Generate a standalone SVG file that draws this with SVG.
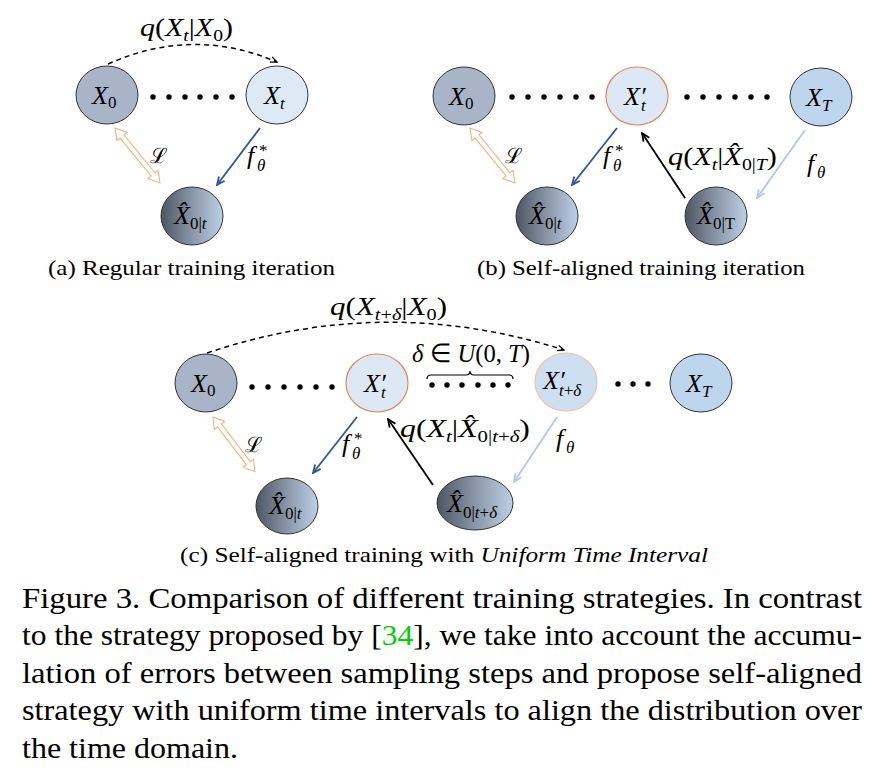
<svg xmlns="http://www.w3.org/2000/svg" width="891" height="779" viewBox="0 0 891 779">
<defs>
<linearGradient id="gh" x1="0" y1="0" x2="1" y2="0">
<stop offset="0" stop-color="#4d5562"/>
<stop offset="0.5" stop-color="#8a96a8"/>
<stop offset="1" stop-color="#bdd0e6"/>
</linearGradient>
<marker id="mb" viewBox="0 0 10 10" refX="9" refY="5" markerWidth="10" markerHeight="10" orient="auto" markerUnits="userSpaceOnUse"><path d="M1,1.5 L9,5 L1,8.5" fill="none" stroke="#2f5597" stroke-width="1.8"/></marker>
<marker id="ml" viewBox="0 0 10 10" refX="9" refY="5" markerWidth="10" markerHeight="10" orient="auto" markerUnits="userSpaceOnUse"><path d="M1,1.5 L9,5 L1,8.5" fill="none" stroke="#b4c7e7" stroke-width="1.8"/></marker>
<marker id="mk" viewBox="0 0 10 10" refX="9" refY="5" markerWidth="10" markerHeight="10" orient="auto" markerUnits="userSpaceOnUse"><path d="M1,1.5 L9,5 L1,8.5" fill="none" stroke="#000" stroke-width="1.8"/></marker>
<marker id="md" viewBox="0 0 10 10" refX="9" refY="5" markerWidth="8" markerHeight="8" orient="auto" markerUnits="userSpaceOnUse"><path d="M1,1.5 L9,5 L1,8.5" fill="none" stroke="#000" stroke-width="1.6"/></marker>
<polygon id="dbl71" points="0,0 11,-6.5 11,-2.5 60,-2.5 60,-6.5 71,0 60,6.5 60,2.5 11,2.5 11,6.5"/>
</defs>

<g id="connectors" fill="none" stroke-width="1.8">
<path d="M108,64 Q193,26 277,62" stroke="#000" stroke-width="1.5" stroke-dasharray="5,4" marker-end="url(#md)"/>
<use href="#dbl71" fill="#fff" stroke="#f4b183" stroke-width="1.1" transform="translate(115,128) rotate(50.7)"/>
<line x1="260" y1="128" x2="217" y2="185" stroke="#2f5597" marker-end="url(#mb)"/>
<use href="#dbl71" fill="#fff" stroke="#f4b183" stroke-width="1.1" transform="translate(470,128) rotate(50.7)"/>
<line x1="617" y1="128" x2="572" y2="185" stroke="#2f5597" marker-end="url(#mb)"/>
<line x1="685" y1="198" x2="642" y2="133" stroke="#000" marker-end="url(#mk)"/>
<line x1="805" y1="130" x2="757" y2="198" stroke="#b4c7e7" marker-end="url(#ml)"/>
<path d="M207,353 Q385,293 564,350" stroke="#000" stroke-width="1.5" stroke-dasharray="5,4" marker-end="url(#md)"/>
<use href="#dbl71" fill="#fff" stroke="#f4b183" stroke-width="1.1" transform="translate(213,417) rotate(52.6) scale(0.97,1)"/>
<line x1="357" y1="417" x2="313" y2="473" stroke="#2f5597" marker-end="url(#mb)"/>
<line x1="433" y1="485" x2="388" y2="419" stroke="#000" marker-end="url(#mk)"/>
<line x1="557" y1="417" x2="514" y2="482" stroke="#b4c7e7" marker-end="url(#ml)"/>
<path d="M427,379 q0,-4 4,-4 H466 q4,0 4,-4 q0,4 4,4 H509 q4,0 4,4" stroke="#000" stroke-width="1.2"/>
</g>

<g id="dots" fill="#000">
<circle cx="153" cy="97" r="2.7"/><circle cx="169" cy="97" r="2.7"/><circle cx="185" cy="97" r="2.7"/><circle cx="200" cy="97" r="2.7"/><circle cx="216" cy="97" r="2.7"/><circle cx="232" cy="97" r="2.7"/>
<circle cx="512" cy="97" r="2.7"/><circle cx="528" cy="97" r="2.7"/><circle cx="544" cy="97" r="2.7"/><circle cx="560" cy="97" r="2.7"/><circle cx="576" cy="97" r="2.7"/><circle cx="592" cy="97" r="2.7"/>
<circle cx="687" cy="97" r="2.7"/><circle cx="703" cy="97" r="2.7"/><circle cx="719" cy="97" r="2.7"/><circle cx="735" cy="97" r="2.7"/><circle cx="751" cy="97" r="2.7"/><circle cx="767" cy="97" r="2.7"/>
<circle cx="252" cy="387" r="2.7"/><circle cx="268" cy="387" r="2.7"/><circle cx="284" cy="387" r="2.7"/><circle cx="300" cy="387" r="2.7"/><circle cx="316" cy="387" r="2.7"/><circle cx="332" cy="387" r="2.7"/>
<circle cx="432" cy="385" r="2.7"/><circle cx="447" cy="385" r="2.7"/><circle cx="462" cy="385" r="2.7"/><circle cx="478" cy="385" r="2.7"/><circle cx="493" cy="385" r="2.7"/><circle cx="508" cy="385" r="2.7"/>
<circle cx="618" cy="384" r="2.7"/><circle cx="633" cy="384" r="2.7"/><circle cx="648" cy="384" r="2.7"/>
</g>

<g id="a_X0"><ellipse cx="107" cy="95" rx="31" ry="29" fill="#a9b4c8" stroke="#333"/>
<text style="font-family:'Liberation Serif'" font-size="26" x="92" y="104"><tspan font-style="italic">X</tspan><tspan font-size="17" dy="4">0</tspan></text></g>
<g id="a_Xt"><ellipse cx="277" cy="95" rx="31" ry="29" fill="#dde9f5" stroke="#333"/>
<text style="font-family:'Liberation Serif'" font-size="26" x="264" y="104"><tspan font-style="italic">X</tspan><tspan font-size="17" font-style="italic" dy="5">t</tspan></text></g>
<g id="a_X0t"><ellipse cx="192" cy="216" rx="31" ry="29" fill="url(#gh)" stroke="#333"/>
<text style="font-family:'Liberation Serif'" font-size="26" x="174" y="224"><tspan font-style="italic">X̂</tspan><tspan font-size="17" dy="5">0|</tspan><tspan font-size="17" font-style="italic">t</tspan></text></g>

<g id="b_X0"><ellipse cx="464" cy="96" rx="31" ry="29" fill="#a9b4c8" stroke="#333"/>
<text style="font-family:'Liberation Serif'" font-size="26" x="449" y="105"><tspan font-style="italic">X</tspan><tspan font-size="17" dy="4">0</tspan></text></g>
<g id="b_Xt"><ellipse cx="637" cy="96" rx="31" ry="29" fill="#dde8f4" stroke="#d9895e" stroke-width="1.2"/>
<text style="font-family:'Liberation Serif'" font-size="26" font-style="italic" x="624" y="105">X′</text><text style="font-family:'Liberation Serif'" font-size="17" font-style="italic" x="641" y="111">t</text></g>
<g id="b_XT"><ellipse cx="821" cy="97" rx="31" ry="29" fill="#bdd5ed" stroke="#333"/>
<text style="font-family:'Liberation Serif'" font-size="26" x="806" y="106"><tspan font-style="italic">X</tspan><tspan font-size="17" font-style="italic" dy="5">T</tspan></text></g>
<g id="b_X0t"><ellipse cx="547" cy="216" rx="31" ry="29" fill="url(#gh)" stroke="#333"/>
<text style="font-family:'Liberation Serif'" font-size="26" x="529" y="224"><tspan font-style="italic">X̂</tspan><tspan font-size="17" dy="5">0|</tspan><tspan font-size="17" font-style="italic">t</tspan></text></g>
<g id="b_X0T"><ellipse cx="716" cy="216" rx="31" ry="29" fill="url(#gh)" stroke="#333"/>
<text style="font-family:'Liberation Serif'" font-size="26" x="697" y="224"><tspan font-style="italic">X̂</tspan><tspan font-size="17" dy="5">0|T</tspan></text></g>

<g id="c_X0"><ellipse cx="206" cy="383" rx="31" ry="29" fill="#a9b4c8" stroke="#333"/>
<text style="font-family:'Liberation Serif'" font-size="26" x="191" y="392"><tspan font-style="italic">X</tspan><tspan font-size="17" dy="4">0</tspan></text></g>
<g id="c_Xt"><ellipse cx="377" cy="383" rx="31" ry="29" fill="#dde8f4" stroke="#d9895e" stroke-width="1.2"/>
<text style="font-family:'Liberation Serif'" font-size="26" font-style="italic" x="364" y="392">X′</text><text style="font-family:'Liberation Serif'" font-size="17" font-style="italic" x="381" y="398">t</text></g>
<g id="c_Xtd"><ellipse cx="566" cy="382" rx="31" ry="29" fill="#cddff0" stroke="#f0c4a8" stroke-width="1.2"/>
<text style="font-family:'Liberation Serif'" font-size="26" font-style="italic" x="543" y="389">X′</text><text style="font-family:'Liberation Serif'" font-size="17" x="559" y="396"><tspan font-style="italic">t</tspan>+<tspan font-style="italic">δ</tspan></text></g>
<g id="c_XT"><ellipse cx="701" cy="383" rx="31" ry="29" fill="#bdd5ed" stroke="#333"/>
<text style="font-family:'Liberation Serif'" font-size="26" x="686" y="392"><tspan font-style="italic">X</tspan><tspan font-size="17" font-style="italic" dy="5">T</tspan></text></g>
<g id="c_X0t"><ellipse cx="287" cy="506" rx="31" ry="28" fill="url(#gh)" stroke="#333"/>
<text style="font-family:'Liberation Serif'" font-size="26" x="269" y="514"><tspan font-style="italic">X̂</tspan><tspan font-size="17" dy="5">0|</tspan><tspan font-size="17" font-style="italic">t</tspan></text></g>
<g id="c_X0td"><ellipse cx="475" cy="503" rx="38" ry="27" fill="url(#gh)" stroke="#333"/>
<text style="font-family:'Liberation Serif'" font-size="26" x="447" y="512"><tspan font-style="italic">X̂</tspan><tspan font-size="17" dy="6">0|</tspan><tspan font-size="17" font-style="italic">t</tspan><tspan font-size="17">+</tspan><tspan font-size="17" font-style="italic">δ</tspan></text></g>

<text style="font-family:'Liberation Serif'" font-size="26" x="140" y="36" textLength="93" lengthAdjust="spacingAndGlyphs"><tspan font-style="italic">q</tspan>(<tspan font-style="italic">X</tspan><tspan font-size="17" font-style="italic" dy="5">t</tspan><tspan dy="-5">|</tspan><tspan font-style="italic">X</tspan><tspan font-size="17" dy="5">0</tspan><tspan dy="-5">)</tspan></text>
<text style="font-family:'DejaVu Serif'" font-size="21" x="150" y="163">ℒ</text>
<text style="font-family:'Liberation Serif'" font-size="26" font-style="italic" x="247" y="164">f</text><text style="font-family:'Liberation Serif'" font-size="17" x="259" y="156">*</text><text style="font-family:'Liberation Serif'" font-size="17" font-style="italic" x="257" y="171">θ</text>

<text style="font-family:'DejaVu Serif'" font-size="21" x="505" y="163">ℒ</text>
<text style="font-family:'Liberation Serif'" font-size="26" font-style="italic" x="603" y="164">f</text><text style="font-family:'Liberation Serif'" font-size="17" x="615" y="156">*</text><text style="font-family:'Liberation Serif'" font-size="17" font-style="italic" x="613" y="171">θ</text>
<text style="font-family:'Liberation Serif'" font-size="26" x="668" y="165" textLength="109" lengthAdjust="spacingAndGlyphs"><tspan font-style="italic">q</tspan>(<tspan font-style="italic">X</tspan><tspan font-size="17" font-style="italic" dy="5">t</tspan><tspan dy="-5">|</tspan><tspan font-style="italic">X̂</tspan><tspan font-size="17" dy="5">0|</tspan><tspan font-size="17" font-style="italic">T</tspan><tspan dy="-5">)</tspan></text>
<text style="font-family:'Liberation Serif'" font-size="26" font-style="italic" x="807" y="172">f</text><text style="font-family:'Liberation Serif'" font-size="17" font-style="italic" x="817" y="178">θ</text>

<text style="font-family:'Liberation Serif'" font-size="26" x="330" y="315" textLength="117" lengthAdjust="spacingAndGlyphs"><tspan font-style="italic">q</tspan>(<tspan font-style="italic">X</tspan><tspan font-size="17" dy="5"><tspan font-style="italic">t</tspan>+<tspan font-style="italic">δ</tspan></tspan><tspan dy="-5">|</tspan><tspan font-style="italic">X</tspan><tspan font-size="17" dy="5">0</tspan><tspan dy="-5">)</tspan></text>
<text style="font-family:'Liberation Serif'" font-size="26" x="412" y="362" textLength="118" lengthAdjust="spacingAndGlyphs"><tspan font-style="italic">δ</tspan> ∈ <tspan font-style="italic">U</tspan>(0, <tspan font-style="italic">T</tspan>)</text>
<text style="font-family:'DejaVu Serif'" font-size="21" x="245" y="452">ℒ</text>
<text style="font-family:'Liberation Serif'" font-size="26" font-style="italic" x="342" y="452">f</text><text style="font-family:'Liberation Serif'" font-size="17" x="354" y="444">*</text><text style="font-family:'Liberation Serif'" font-size="17" font-style="italic" x="352" y="459">θ</text>
<text style="font-family:'Liberation Serif'" font-size="26" x="400" y="437" textLength="130" lengthAdjust="spacingAndGlyphs"><tspan font-style="italic">q</tspan>(<tspan font-style="italic">X</tspan><tspan font-size="17" font-style="italic" dy="5">t</tspan><tspan dy="-5">|</tspan><tspan font-style="italic">X̂</tspan><tspan font-size="17" dy="5">0|</tspan><tspan font-size="17" font-style="italic">t</tspan><tspan font-size="17">+</tspan><tspan font-size="17" font-style="italic">δ</tspan><tspan dy="-5">)</tspan></text>
<text style="font-family:'Liberation Serif'" font-size="26" font-style="italic" x="556" y="447">f</text><text style="font-family:'Liberation Serif'" font-size="17" font-style="italic" x="566" y="453">θ</text>

<text style="font-family:'Liberation Serif'" font-size="22" x="48" y="275" textLength="287" lengthAdjust="spacingAndGlyphs">(a) Regular training iteration</text>
<text style="font-family:'Liberation Serif'" font-size="22" x="477" y="275" textLength="328" lengthAdjust="spacingAndGlyphs">(b) Self-aligned training iteration</text>
<text style="font-family:'Liberation Serif'" font-size="22" x="180" y="562" textLength="528" lengthAdjust="spacingAndGlyphs">(c) Self-aligned training with <tspan font-style="italic">Uniform Time Interval</tspan></text>
<text style="font-family:'Liberation Serif'" font-size="29" x="22" y="608" textLength="840" lengthAdjust="spacingAndGlyphs">Figure 3.  Comparison of different training strategies.  In contrast</text>
<text style="font-family:'Liberation Serif'" font-size="29" x="22" y="645" textLength="840" lengthAdjust="spacingAndGlyphs">to the strategy proposed by [<tspan fill="#00d000">34</tspan>], we take into account the accumu-</text>
<text style="font-family:'Liberation Serif'" font-size="29" x="22" y="683" textLength="840" lengthAdjust="spacingAndGlyphs">lation of errors between sampling steps and propose self-aligned</text>
<text style="font-family:'Liberation Serif'" font-size="29" x="22" y="720" textLength="840" lengthAdjust="spacingAndGlyphs">strategy with uniform time intervals to align the distribution over</text>
<text style="font-family:'Liberation Serif'" font-size="29" x="22" y="758" textLength="216" lengthAdjust="spacingAndGlyphs">the time domain.</text>
</svg>
